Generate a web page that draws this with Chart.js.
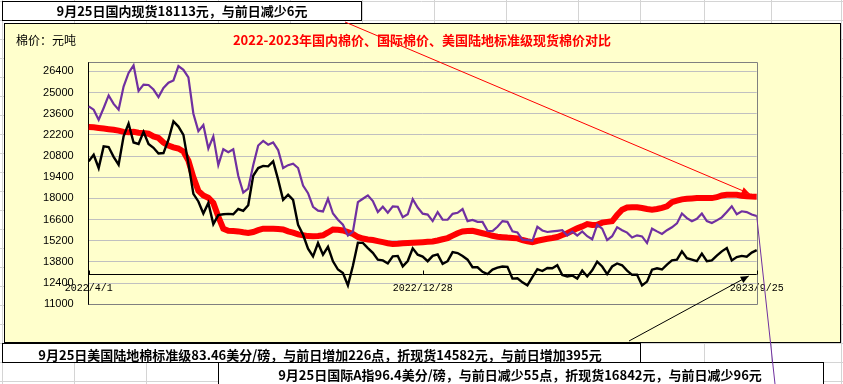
<!DOCTYPE html>
<html><head><meta charset="utf-8">
<script src="https://cdn.jsdelivr.net/npm/chart.js@4/dist/chart.umd.min.js"></script>
<style>html,body{margin:0;padding:0;background:#fff;overflow:hidden}canvas{display:block}</style>
</head><body>
<canvas id="c" width="843" height="384" style="width:843px;height:384px"></canvas>
<script>
// ---- data ----
const tickLabels = ['2022/4/1', '2022/12/28', '2023/9/25'];
const yTickValues = [11000, 12400, 13800, 15200, 16600, 18000, 19400, 20800, 22200, 23600, 25000, 26400];
const axisCross = 13000;
const seriesNames = ['国内现货', '国际A指折现货', '美国陆地棉标准级折现货'];

// 国内现货 (red)
const domestic = [
22720,22700,22660,22620,22580,22540,22480,22400,22380,22400,
22340,22320,22280,22100,22000,21700,21500,21380,21300,21100,
20500,19400,18500,18200,18050,17700,16800,16000,15860,15840,
15820,15760,15720,15780,15900,16000,16000,15990,15980,15950,
15820,15740,15620,15570,15510,15500,15520,15560,15750,15950,
15930,15880,15770,15650,15450,15350,15290,15250,15180,15110,
15040,14980,15000,15030,15050,15070,15090,15110,15130,15150,
15220,15300,15380,15540,15700,15820,15850,15860,15780,15700,
15620,15530,15470,15440,15410,15390,15360,15250,15170,15110,
15200,15270,15330,15380,15450,15580,15700,15860,16020,16150,
16300,16240,16260,16400,16450,16490,16900,17250,17400,17420,
17410,17370,17300,17260,17300,17380,17480,17750,17850,17940,
17980,18000,18020,18020,18020,18020,18080,18200,18240,18250,
18240,18180,18140,18120,18113];

// 国际A指折现货 (purple)
const intlA = [
24090,23870,23200,23980,24810,24250,23870,25400,26300,26800,
25110,25520,25500,25200,24700,25300,25650,25800,26750,26500,
26000,23600,22450,22850,21300,22100,20200,21250,21050,21250,
19500,18380,18650,20200,21500,21800,21550,21700,21200,20010,
20200,20300,20010,18850,18350,17450,17190,17140,17980,17000,
16590,16260,15550,15800,17750,17980,18200,17820,17100,17450,
17050,17480,17450,16760,16950,17950,17400,16990,16930,16500,
17100,16600,16590,16980,17050,17300,16500,16580,16450,16450,
15860,15840,16130,16500,16450,15830,15750,15270,15260,15200,
16120,15880,15780,15820,15860,15900,15550,15800,15550,15820,
15500,15300,16250,16000,15250,15500,16100,15900,15740,15420,
15560,15490,15050,16000,15820,15650,15900,16090,16350,17000,
16700,16490,16650,17000,16500,16370,16550,16750,17100,17480,
16950,17150,17100,16940,16842];

// 美国陆地棉标准级折现货 (black)
const usUpland = [
20450,20890,20010,21440,21400,20750,20230,22100,22950,21700,
21600,22400,21600,21350,20970,21000,21880,23090,22750,22200,
20300,18300,17800,17000,17700,16300,16900,16950,16980,16950,
17300,17180,17550,19500,20010,20150,20120,20450,19240,17910,
18250,17900,16260,15600,14680,14170,15050,14280,14800,13840,
13300,13070,12250,13550,15070,15060,14720,14400,13950,13900,
13700,14170,14200,13510,13860,14700,14280,14150,13850,14200,
14300,13670,13850,14450,14390,14190,13950,13450,13450,13150,
13000,13300,13420,13500,13480,12700,12720,12450,12250,12800,
13320,13200,13400,13380,13580,12940,12840,12900,12700,13230,
12840,13250,13820,13500,13000,13500,13700,13580,13230,12950,
12950,12250,12500,13290,13380,13300,13620,13900,13950,14500,
14050,13950,13850,14350,13850,13900,14220,14500,14720,13900,
14120,14200,14150,14420,14582];

// categories: dates from 2022/4/1 to 2023/9/25
const totalDays = 542;
const categories = domestic.map((_, i) => {
  const d = new Date(2022, 3, 1);
  d.setDate(d.getDate() + Math.round(i * totalDays / (domestic.length - 1)));
  return d.getFullYear() + '/' + (d.getMonth() + 1) + '/' + d.getDate();
});

const CJK = '"Noto Sans CJK SC", "Noto Sans", sans-serif';

function line(ctx, x1, y1, x2, y2) { ctx.beginPath(); ctx.moveTo(x1, y1); ctx.lineTo(x2, y2); ctx.stroke(); }
function arrow(ctx, x1, y1, x2, y2, color, head) {
  ctx.strokeStyle = color; ctx.fillStyle = color; ctx.lineWidth = 1;
  line(ctx, x1, y1, x2, y2);
  if (head) {
    const a = Math.atan2(y2 - y1, x2 - x1), L = 8, W = 3.5;
    ctx.beginPath();
    ctx.moveTo(x2, y2);
    ctx.lineTo(x2 - L * Math.cos(a) + W * Math.sin(a), y2 - L * Math.sin(a) - W * Math.cos(a));
    ctx.lineTo(x2 - L * Math.cos(a) - W * Math.sin(a), y2 - L * Math.sin(a) + W * Math.cos(a));
    ctx.closePath(); ctx.fill();
  }
}

const sheetPlugin = {
  id: 'sheet',
  beforeDraw(chart) {
    const ctx = chart.ctx;
    ctx.save();
    ctx.fillStyle = '#fff'; ctx.fillRect(0, 0, 843, 384);
    ctx.strokeStyle = '#D4D4D4'; ctx.lineWidth = 1;
    for (let y = 1; y < 384; y += 19) line(ctx, 0, y + 0.5, 843, y + 0.5);
    [2, 74, 146, 218, 290, 362, 434, 506, 578, 640, 704, 771, 841].forEach(x => line(ctx, x + 0.5, 0, x + 0.5, 384));
    // chart object
    ctx.fillStyle = '#FFFFCC'; ctx.fillRect(4, 23, 837, 320);
    ctx.strokeStyle = '#000'; ctx.strokeRect(4.5, 23.5, 836, 319);
    // text boxes
    ctx.fillStyle = '#fff';
    ctx.fillRect(2, 1, 360, 20); ctx.strokeRect(2.5, 1.5, 359, 19);
    ctx.fillRect(2, 343, 638, 19); ctx.strokeRect(2.5, 343.5, 638, 19);
    ctx.fillRect(218, 362, 605, 24); ctx.strokeRect(218.5, 362.5, 605, 30);
    ctx.restore();
  },
  beforeDatasetsDraw(chart) {
    const ctx = chart.ctx, a = chart.chartArea;
    ctx.save();
    ctx.strokeStyle = '#808080'; ctx.lineWidth = 1;
    ctx.beginPath();
    ctx.moveTo(a.left, Math.round(a.top) + 0.5);
    ctx.lineTo(Math.round(a.right) + 0.5, Math.round(a.top) + 0.5);
    ctx.lineTo(Math.round(a.right) + 0.5, Math.round(a.bottom) + 0.5);
    ctx.lineTo(a.left, Math.round(a.bottom) + 0.5);
    ctx.stroke();
    const y0 = Math.round(chart.scales.y.getPixelForValue(axisCross)) + 0.5;
    ctx.strokeStyle = '#000';
    line(ctx, a.left, y0, a.right, y0);
    const xs = chart.scales.x;
    tickLabels.forEach(lbl => {
      const i = categories.indexOf(lbl);
      const x = Math.round(xs.getPixelForValue(i)) + 0.5;
      line(ctx, x, y0, x, y0 - 4);
    });
    ctx.restore();
  },
  afterDraw(chart) {
    const ctx = chart.ctx;
    ctx.save();
    ctx.textBaseline = 'middle';
    ctx.fillStyle = '#000';
    ctx.font = '12px ' + CJK; ctx.textAlign = 'left';
    ctx.fillText('棉价：元吨', 16, 40);
    ctx.textAlign = 'center';
    ctx.fillStyle = '#FF0000'; ctx.font = 'bold 13px ' + CJK;
    ctx.fillText('2022-2023年国内棉价、国际棉价、美国陆地标准级现货棉价对比', 422, 40);
    ctx.fillStyle = '#000';
    ctx.fillText('9月25日国内现货18113元，与前日减少6元', 182, 11);
    ctx.fillText('9月25日美国陆地棉标准级83.46美分/磅，与前日增加226点，折现货14582元，与前日增加395元', 320, 355);
    ctx.fillText('9月25日国际A指96.4美分/磅，与前日减少55点，折现货16842元，与前日减少96元', 520, 375);
    // callout lines
    const xs = chart.scales.x, ys = chart.scales.y, n = domestic.length - 1;
    const xe = xs.getPixelForValue(n);
    arrow(ctx, 345, 22, xe - 7, ys.getPixelForValue(domestic[n]) - 3, '#FF0000', true);
    arrow(ctx, 629, 341, xe - 8, ys.getPixelForValue(axisCross) + 2, '#000', true);
    arrow(ctx, xe, ys.getPixelForValue(intlA[n]), 775, 384, '#7030A0', false);
    ctx.restore();
  }
};

new Chart(document.getElementById('c'), {
  type: 'line',
  data: {
    labels: categories,
    datasets: [
      { label: seriesNames[1], data: intlA, borderColor: '#7030A0', borderWidth: 2.2, pointRadius: 0, tension: 0, order: 1 },
      { label: seriesNames[2], data: usUpland, borderColor: '#000000', borderWidth: 2.4, pointRadius: 0, tension: 0, order: 2 },
      { label: seriesNames[0], data: domestic, borderColor: '#FF0000', borderWidth: 6, pointRadius: 0, tension: 0, order: 3 }
    ]
  },
  options: {
    responsive: false, animation: false, devicePixelRatio: 1,
    layout: { padding: { left: 0, top: 62.3, right: 86.3, bottom: 79.7 } },
    plugins: { legend: { display: false }, title: { display: false }, tooltip: { enabled: false } },
    scales: {
      x: {
        type: 'category', position: { y: axisCross }, offset: false,
        grid: { display: false, drawTicks: false }, border: { display: false },
        ticks: {
          autoSkip: false, maxRotation: 0, minRotation: 0, padding: 8, color: '#000',
          font: { family: '"Liberation Mono", monospace', size: 10 },
          callback: (v, i) => tickLabels.includes(categories[i]) ? categories[i] : null
        }
      },
      y: {
        min: 11000, max: 27000,
        afterBuildTicks: (s) => { s.ticks = yTickValues.map(v => ({ value: v })); },
        afterFit: (s) => { s.width = 88.7; },
        grid: { color: '#C0C0C0', drawTicks: false, lineWidth: 1 },
        border: { display: true, color: '#000', width: 1 },
        ticks: { padding: 15, color: '#000', callback: (v) => String(v), font: { family: '"Liberation Sans", Arial, sans-serif', size: 11 } }
      }
    }
  },
  plugins: [sheetPlugin]
});
</script>
</body></html>
